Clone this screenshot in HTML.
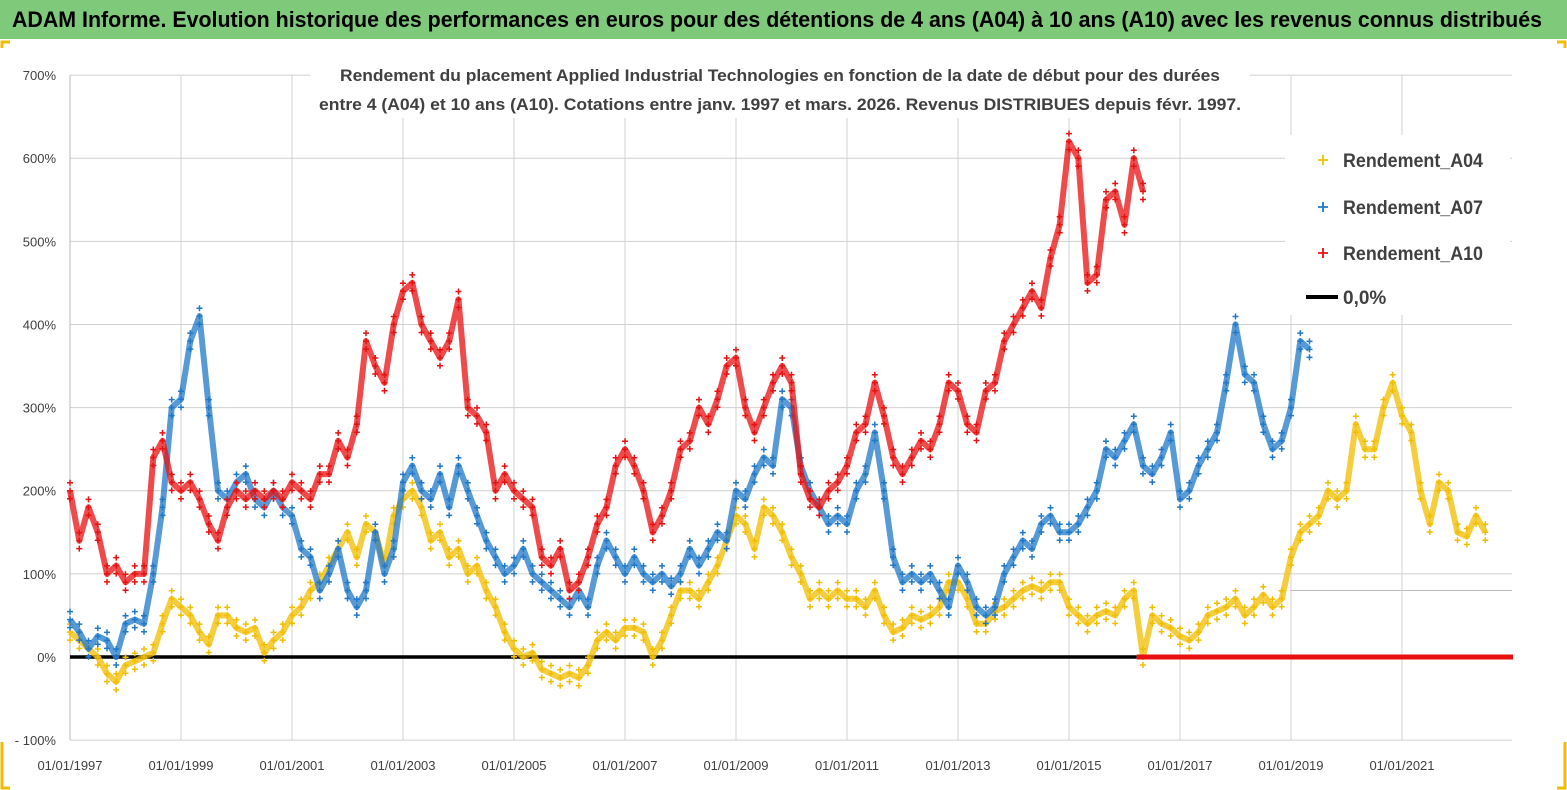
<!DOCTYPE html>
<html><head><meta charset="utf-8"><style>
html,body{margin:0;padding:0;background:#fff;}
svg{display:block;font-family:"Liberation Sans Narrow","Liberation Sans",sans-serif;}
</style></head><body>
<svg id="chart" width="1567" height="790" viewBox="0 0 1567 790" xmlns="http://www.w3.org/2000/svg">
<rect x="0" y="0" width="1567" height="790" fill="#fff"/>
<rect x="0" y="0" width="1567" height="39" fill="#7ec97a"/>
<text x="12" y="27" font-size="22" font-weight="bold" fill="#000" textLength="1530" lengthAdjust="spacingAndGlyphs">ADAM Informe. Evolution historique des performances en euros pour des détentions de 4 ans (A04) à 10 ans (A10) avec les revenus connus distribués</text>
<g id="grid"></g>
<g id="yticks"></g>
<g id="xticks"></g>
<rect x="310" y="60" width="940" height="58" fill="#fff"/>
<text x="780" y="81" font-size="17" font-weight="bold" fill="#404040" text-anchor="middle" textLength="880" lengthAdjust="spacingAndGlyphs">Rendement du placement Applied Industrial Technologies en fonction de la date de début pour des durées</text>
<text x="780" y="110" font-size="17" font-weight="bold" fill="#404040" text-anchor="middle" textLength="922" lengthAdjust="spacingAndGlyphs">entre 4 (A04) et 10 ans (A10). Cotations entre janv. 1997 et mars. 2026. Revenus DISTRIBUES depuis févr. 1997.</text>
<g id="series"></g>
<g>
<rect x="1285" y="135" width="225" height="180" fill="#fff"/>
<g><path d="M1318 160h10M1323 155v10" stroke="#f2bd00" stroke-width="1.8"/><text x="1343" y="167" font-size="19" font-weight="bold" fill="#404040" textLength="140" lengthAdjust="spacingAndGlyphs">Rendement_A04</text></g>
<g><path d="M1318 207h10M1323 202v10" stroke="#1f78c8" stroke-width="1.8"/><text x="1343" y="214" font-size="19" font-weight="bold" fill="#404040" textLength="140" lengthAdjust="spacingAndGlyphs">Rendement_A07</text></g>
<g><path d="M1318 253h10M1323 248v10" stroke="#e81010" stroke-width="1.8"/><text x="1343" y="260" font-size="19" font-weight="bold" fill="#404040" textLength="140" lengthAdjust="spacingAndGlyphs">Rendement_A10</text></g>
<g><line x1="1306" y1="297" x2="1338" y2="297" stroke="#000" stroke-width="4"/><text x="1343" y="304" font-size="19" font-weight="bold" fill="#404040">0,0%</text></g>
</g>
<g stroke="#f2bd00" stroke-width="3" fill="none">
<path d="M2 48v-6h8"/><path d="M1565 48v-6h-8"/><path d="M2 742v46h8"/><path d="M1565 742v46h-8"/>
</g>
</svg>
<script>
const yTickValues=[-100,0,100,200,300,400,500,600,700];
const yTickLabels=["- 100%","0%","100%","200%","300%","400%","500%","600%","700%"];
const xTickYears=[1997,1999,2001,2003,2005,2007,2009,2011,2013,2015,2017,2019,2021];
const xTickLabels=["01/01/1997","01/01/1999","01/01/2001","01/01/2003","01/01/2005","01/01/2007","01/01/2009","01/01/2011","01/01/2013","01/01/2015","01/01/2017","01/01/2019","01/01/2021"];
const startYear=1997, stepYears=1/6;
const a04=[30,20,10,0,-20,-30,-10,-5,0,5,40,70,60,50,30,15,50,50,35,30,35,5,20,30,50,60,80,90,110,130,150,120,160,150,110,170,190,200,180,140,150,120,130,100,110,80,60,30,10,0,5,-15,-20,-25,-20,-25,-10,20,30,20,35,35,30,0,20,50,80,80,70,90,110,140,170,160,130,180,170,150,120,100,70,80,70,80,70,70,60,80,50,30,35,50,45,50,60,90,90,70,40,40,55,60,70,80,85,80,90,90,60,50,40,50,55,50,70,80,0,50,40,35,25,20,30,50,55,60,70,50,60,75,60,70,120,150,160,170,200,190,200,280,250,250,300,330,290,270,200,160,210,200,150,145,170,150];
const a07=[45,30,10,25,20,0,40,45,40,100,180,300,310,380,410,300,200,190,210,220,190,180,200,180,170,130,120,80,100,130,80,60,80,150,100,130,210,230,200,190,220,180,230,200,170,140,120,100,110,130,100,90,80,70,60,80,60,110,140,120,100,120,100,90,100,85,100,130,110,130,150,140,200,190,220,240,230,310,300,230,200,180,160,170,160,200,220,270,200,120,90,100,90,100,80,60,110,90,60,50,60,100,120,140,130,160,170,150,150,160,180,200,250,240,260,280,230,220,240,270,190,200,230,250,270,330,400,340,330,280,250,260,300,380,370];
const a10=[200,140,180,150,100,110,90,100,100,240,260,210,200,210,190,160,140,180,200,190,200,190,200,190,210,200,190,220,220,260,240,280,380,350,330,400,440,450,400,380,360,380,430,300,290,270,200,220,200,190,180,120,110,130,80,90,120,160,180,230,250,230,200,150,170,200,250,260,300,280,310,350,360,300,270,300,330,350,330,220,190,180,200,210,230,270,280,330,290,240,220,240,260,250,280,330,320,280,270,320,330,380,400,420,440,420,480,520,620,600,450,460,550,560,520,600,560];
const zeroEndYear=2016.22, a10ZeroStart=2016.22, a10ZeroEnd=2023.0;
const X0=70, X1=1512, yearPx=55.5;
function xs(yr){return X0+(yr-startYear)*yearPx;}
function ys(v){return 657-v*0.8313;}
const NS="http://www.w3.org/2000/svg";
function mk(tag,attrs,parent){const e=document.createElementNS(NS,tag);for(const k in attrs)e.setAttribute(k,attrs[k]);parent.appendChild(e);return e;}
const grid=document.getElementById('grid'),yt=document.getElementById('yticks'),xt=document.getElementById('xticks'),ser=document.getElementById('series');
yTickValues.forEach((v,i)=>{
  const l=mk('line',{x1:X0,x2:X1,y1:ys(v),y2:ys(v),stroke:'#d0d0d0','stroke-width':1},grid);
  
  
  const t=mk('text',{x:56,y:ys(v)+5,'font-size':13,fill:'#404040','text-anchor':'end'},yt);
  t.textContent=yTickLabels[i];
  
  
});
mk('line',{x1:1290,x2:X1,y1:ys(80),y2:ys(80),stroke:'#bbb','stroke-width':1},grid);
xTickYears.forEach((yr,i)=>{
  const l=mk('line',{x1:xs(yr),x2:xs(yr),y1:ys(700),y2:ys(-100),stroke:'#d0d0d0','stroke-width':1},grid);
  
  
  const t=mk('text',{x:xs(yr),y:770,'font-size':13,fill:'#404040','text-anchor':'middle'},xt);
  t.textContent=xTickLabels[i];
  
  
});
mk('line',{x1:X0,x2:X0,y1:ys(700),y2:ys(-100),stroke:'#bbb'},grid);
const zl=mk('line',{x1:xs(startYear),x2:xs(zeroEndYear),y1:ys(0),y2:ys(0),stroke:'#000','stroke-width':3.5},ser);


function drawSeries(vals,color,name){
  const g=mk('g',{},ser);
  
  
  const pts=vals.map((v,i)=>xs(startYear+i*stepYears).toFixed(1)+','+ys(v).toFixed(1)).join(' ');
  mk('polyline',{points:pts,fill:'none',stroke:color,'stroke-width':6,'stroke-opacity':0.75,'stroke-linejoin':'round'},g);
  let d='';
  vals.forEach((v,i)=>{const x=xs(startYear+i*stepYears),y=ys(v);
    for(const dy of [-8,0,8]){d+=`M${(x-3).toFixed(1)} ${(y+dy).toFixed(1)}h6M${x.toFixed(1)} ${(y+dy-3).toFixed(1)}v6`;}
  });
  mk('path',{d:d,stroke:color,'stroke-width':1.5,fill:'none'},g);
}
drawSeries(a04,'#f2bd00','series-a04');
drawSeries(a07,'#1f78c8','series-a07');
drawSeries(a10,'#e81010','series-a10');
const rz=mk('line',{x1:xs(a10ZeroStart),x2:xs(a10ZeroEnd),y1:ys(0),y2:ys(0),stroke:'#e81010','stroke-width':5},ser);


</script>
</body></html>
